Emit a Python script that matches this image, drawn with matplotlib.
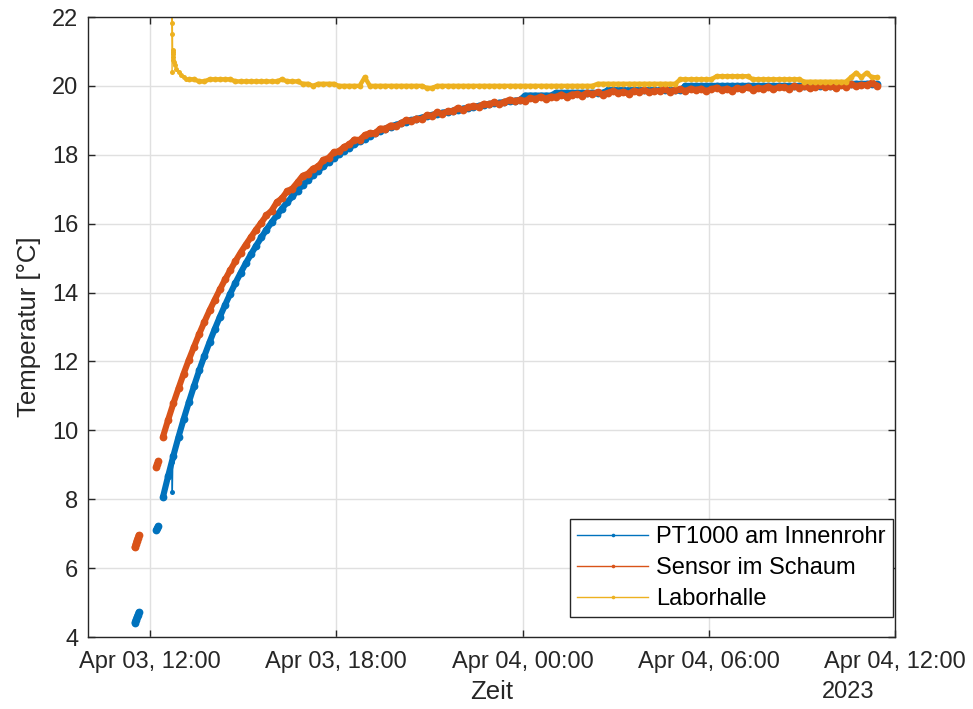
import numpy as np
import pandas as pd
import matplotlib
matplotlib.use("Agg")
import matplotlib.pyplot as plt
import matplotlib.dates as mdates
from matplotlib.lines import Line2D

plt.rcParams['font.family'] = ['Liberation Sans', 'DejaVu Sans']

# ---------------- data ----------------
series_names = ["PT1000 am Innenrohr", "Sensor im Schaum", "Laborhalle"]

# early short recordings
early1_times = ["2023-04-03 11:30", "2023-04-03 11:32", "2023-04-03 11:34",
                "2023-04-03 11:36", "2023-04-03 11:38"]
pt_early1 = [4.42, 4.50, 4.57, 4.65, 4.72]
foam_early1 = [6.60, 6.70, 6.80, 6.88, 6.96]

early2_times = ["2023-04-03 12:12", "2023-04-03 12:14", "2023-04-03 12:16"]
pt_early2 = [7.10, 7.16, 7.22]
foam_early2 = [8.95, 9.03, 9.10]

# main recording, every 10 minutes from 12:25
main_start = "2023-04-03 12:25"
pt_main = [
    8.07, 8.68, 9.26, 9.81, 10.33, 10.82, 11.29, 11.74, 12.16, 12.56,
    12.94, 13.30, 13.64, 13.97, 14.28, 14.57, 14.85, 15.11, 15.36, 15.60,
    15.83, 16.04, 16.24, 16.44, 16.62, 16.79, 16.96, 17.12, 17.27, 17.41,
    17.54, 17.67, 17.79, 17.90, 18.01, 18.11, 18.21, 18.30, 18.39, 18.47,
    18.55, 18.62, 18.69, 18.76,
    18.82, 18.87, 18.91, 18.96, 19.00, 19.04, 19.08, 19.12, 19.15, 19.19,
    19.22, 19.25, 19.28, 19.31, 19.34, 19.37, 19.39, 19.42, 19.44, 19.47,
    19.49, 19.51, 19.53, 19.55, 19.57, 19.59,
    19.72, 19.72, 19.72, 19.72, 19.72, 19.72,
    19.80, 19.80, 19.80, 19.80, 19.80, 19.80, 19.80, 19.80, 19.80, 19.80,
    19.87, 19.87, 19.87, 19.87, 19.87, 19.87, 19.87, 19.87, 19.87, 19.87,
    19.87, 19.87, 19.87, 19.87, 19.87,
    20.00, 20.00, 20.00, 20.00, 20.00, 20.00, 20.00, 20.00, 20.00, 20.00,
    20.00, 20.00, 20.00, 20.00, 20.00, 20.00, 20.00, 20.00, 20.00, 20.00,
    20.00, 20.00, 20.00, 20.00, 20.00, 20.00, 20.00, 20.00, 20.00,
    20.06, 20.06, 20.06, 20.06, 20.06, 20.06, 20.06, 20.06, 20.06,
]
foam_main = [
    9.82, 10.31, 10.78, 11.22, 11.65, 12.05, 12.43, 12.80, 13.15, 13.48,
    13.79, 14.09, 14.38, 14.65, 14.91, 15.16, 15.39, 15.61, 15.83, 16.03,
    16.24, 16.38, 16.62, 16.74, 16.94, 17.02, 17.20, 17.39, 17.45, 17.60,
    17.66, 17.85, 17.91, 18.07, 18.10, 18.23, 18.30, 18.44, 18.43, 18.57,
    18.63, 18.63, 18.76, 18.76, 18.85, 18.83, 18.91, 19.01, 18.98, 19.05,
    19.03, 19.15, 19.13, 19.23, 19.19, 19.26, 19.27, 19.36, 19.30, 19.39,
    19.41, 19.39, 19.48, 19.46, 19.52, 19.47, 19.53, 19.60, 19.55, 19.60,
    19.56, 19.65, 19.62, 19.69, 19.63, 19.69, 19.68, 19.75, 19.68, 19.75,
    19.76, 19.72, 19.80, 19.76, 19.81, 19.75, 19.80, 19.85, 19.79, 19.83,
    19.77, 19.86, 19.82, 19.88, 19.82, 19.86, 19.85, 19.91, 19.83, 19.89,
    19.90, 19.85, 19.92, 19.88, 19.92, 19.85, 19.90, 19.95, 19.88, 19.92,
    19.86, 19.94, 19.90, 19.96, 19.89, 19.94, 19.92, 19.98, 19.90, 19.96,
    19.96, 19.92, 19.99, 19.95, 19.99, 19.93, 19.97, 20.03, 19.96, 20.00,
    19.94, 20.03, 19.98, 20.05, 19.99, 20.03, 20.02, 20.09, 20.01,
]

# short drop-out of the PT1000
pt_spike_times = ["2023-04-03 12:42", "2023-04-03 12:43", "2023-04-03 12:44"]
pt_spike = [9.09, 8.22, 9.20]

# hall temperature: start transient, then every 10 minutes from 13:15
hall_start_times = ["2023-04-03 12:42:30", "2023-04-03 12:42:45", "2023-04-03 12:43:00",
                    "2023-04-03 12:43:15", "2023-04-03 12:43:30", "2023-04-03 12:43:45",
                    "2023-04-03 12:44:00", "2023-04-03 12:44:15", "2023-04-03 12:44:30",
                    "2023-04-03 12:45:30", "2023-04-03 12:48:00", "2023-04-03 12:51:00",
                    "2023-04-03 12:56:00", "2023-04-03 13:00:00", "2023-04-03 13:06:00",
                    "2023-04-03 13:10:00"]
hall_start = [20.40, 23.00, 21.83, 21.52, 21.03, 20.98, 20.92, 20.84, 20.76,
              20.70, 20.60, 20.50, 20.40, 20.31, 20.26, 20.21]
hall_main_start = "2023-04-03 13:15"
hall_main = (
    [20.19, 20.19] + [20.13, 20.13] + [20.19] * 5 + [20.13] * 9 + [20.19]
    + [20.13] * 3 + [20.06] * 2 + [20.00] + [20.06] * 4 + [20.00] * 5
    + [20.25] + [20.00] * 11 + [19.94] * 2 + [20.00] * 31 + [20.06] * 16
    + [20.19] * 7 + [20.28] * 7 + [20.19] * 10 + [20.12] * 9
    + [20.25, 20.38, 20.25, 20.38, 20.25, 20.25]
)

x_ticks = ["2023-04-03 12:00", "2023-04-03 18:00", "2023-04-04 00:00",
           "2023-04-04 06:00", "2023-04-04 12:00"]
x_range = ["2023-04-03 10:00", "2023-04-04 12:00"]
y_ticks = [4, 6, 8, 10, 12, 14, 16, 18, 20, 22]

# ---------------- assemble ----------------
gap1 = pd.Series([np.nan], index=pd.to_datetime(["2023-04-03 11:50"]))
gap2 = pd.Series([np.nan], index=pd.to_datetime(["2023-04-03 12:20"]))

pt = pd.concat([
    pd.Series(pt_early1, index=pd.to_datetime(early1_times)), gap1,
    pd.Series(pt_early2, index=pd.to_datetime(early2_times)), gap2,
    pd.Series(pt_main, index=pd.date_range(main_start, periods=len(pt_main), freq="10min")),
]).sort_index()
foam = pd.concat([
    pd.Series(foam_early1, index=pd.to_datetime(early1_times)), gap1,
    pd.Series(foam_early2, index=pd.to_datetime(early2_times)), gap2,
    pd.Series(foam_main, index=pd.date_range(main_start, periods=len(foam_main), freq="10min")),
]).sort_index()
spike = pd.Series(pt_spike, index=pd.to_datetime(pt_spike_times))
hall0 = pd.Series(hall_start, index=pd.to_datetime(hall_start_times))
hall = pd.Series(hall_main, index=pd.date_range(hall_main_start, periods=len(hall_main), freq="10min"))

colors = ["#0072BD", "#D95319", "#EDB120"]

# ---------------- plot ----------------
fig = plt.figure(figsize=(9.73, 7.09), dpi=100)
ax = fig.add_axes([88 / 973, 1 - 637 / 709, (895 - 88) / 973, (637 - 17) / 709])

thick = dict(linewidth=4.4, marker='o', markersize=5.6, markeredgewidth=0,
             solid_capstyle='round', solid_joinstyle='round')
thin = dict(linewidth=1.0, marker='o', markersize=3.6, markeredgewidth=0)

ax.plot(pt.index, pt.values, '-', color=colors[0], **thick)
ax.plot(spike.index, spike.values, '-', color=colors[0], **thin)
ax.plot(foam.index, foam.values, '-', color=colors[1], **thick)
ax.plot(hall0.index, hall0.values, '-', color=colors[2], **thin)
ax.plot(hall.index, hall.values, '-', color=colors[2], linewidth=3.2, marker='o',
        markersize=4.2, markeredgewidth=0, solid_capstyle='round')

ax.set_xlim(pd.to_datetime(x_range[0]), pd.to_datetime(x_range[1]))
ax.set_ylim(4, 22)
ax.set_yticks(y_ticks)
ax.set_xticks(pd.to_datetime(x_ticks))
ax.xaxis.set_major_formatter(mdates.DateFormatter("%b %d, %H:%M"))

axcol = "#262626"
for sp in ax.spines.values():
    sp.set_color(axcol)
    sp.set_linewidth(1.0)
ax.tick_params(direction='in', length=5, width=1.0, color=axcol, labelcolor=axcol,
               labelsize=17, top=True, right=True)
ax.tick_params(axis='x', pad=10)
ax.tick_params(axis='y', pad=7)
ax.grid(True, color="#E0E0E0", linewidth=1.0)
ax.set_axisbelow(True)

ax.set_xlabel("Zeit", fontsize=18.5, color=axcol, labelpad=5)
ax.set_ylabel("Temperatur [°C]", fontsize=18.5, color=axcol, labelpad=8)
fig.text(822 / 973, 1 - 692 / 709, "2023", fontsize=17, color=axcol,
         ha='left', va='center')

handles = [Line2D([], [], color=c, linewidth=1.0, marker='o', markersize=2.6,
                  markeredgewidth=0) for c in colors]
leg = ax.legend(handles, series_names, loc='lower right',
                bbox_to_anchor=(0.9975, 0.032), borderaxespad=0,
                fontsize=17, frameon=True, fancybox=False, framealpha=1,
                edgecolor=axcol, handlelength=3.0, handletextpad=0.35,
                labelspacing=0.38, borderpad=0.3)
leg.get_frame().set_linewidth(1.0)

fig.savefig("out.png", dpi=100)
